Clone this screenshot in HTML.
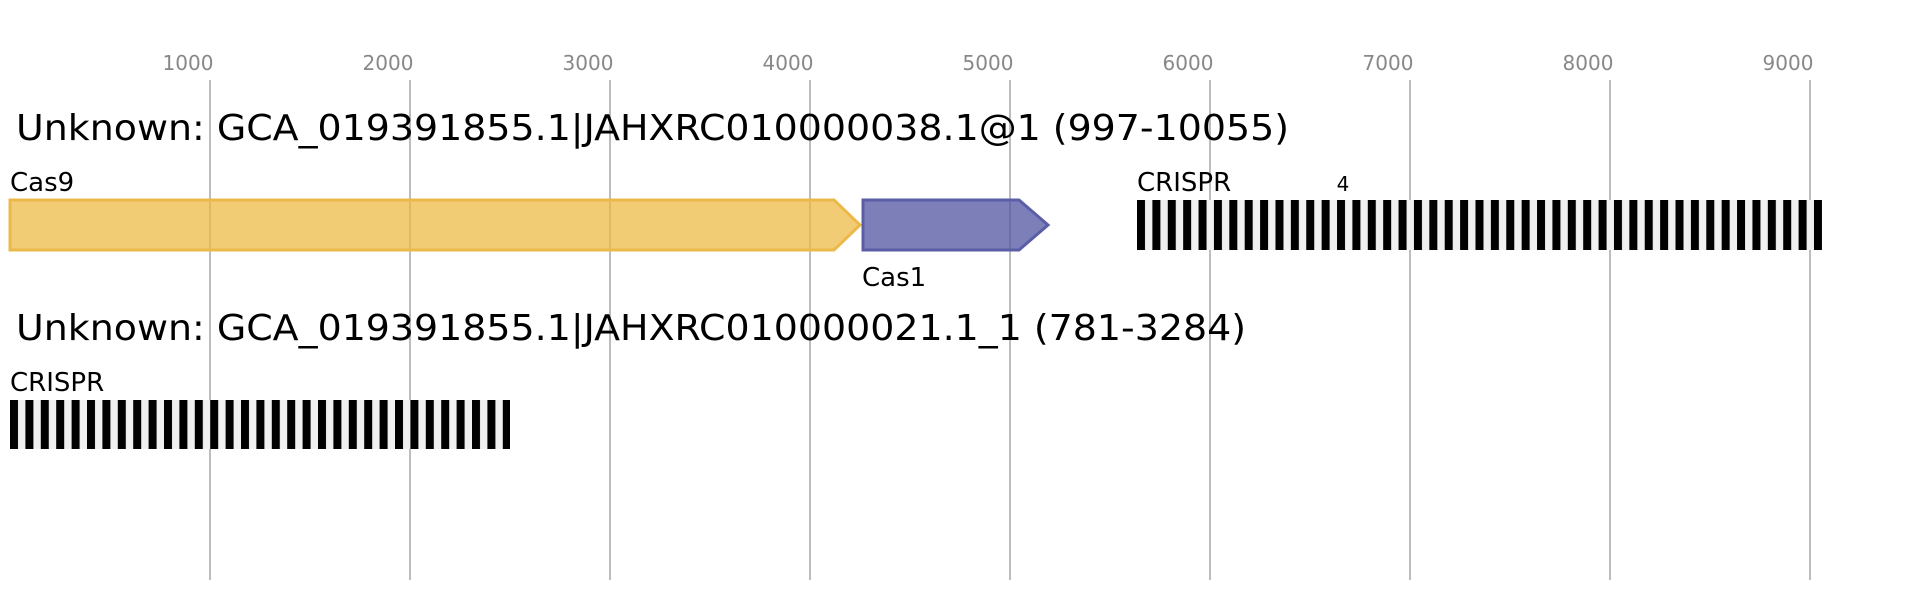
<!DOCTYPE html>
<html><head><meta charset="utf-8"><style>
html,body{margin:0;padding:0;background:#fff;}
svg{display:block;font-family:"DejaVu Sans","Liberation Sans",sans-serif;}
</style></head><body>
<svg width="1912" height="600" viewBox="0 0 1912 600" xmlns="http://www.w3.org/2000/svg">
<g stroke="#bdbdbd" stroke-width="2">
<line x1="210" y1="80" x2="210" y2="580"/><line x1="410" y1="80" x2="410" y2="580"/>
<line x1="610" y1="80" x2="610" y2="580"/><line x1="810" y1="80" x2="810" y2="580"/>
<line x1="1010" y1="80" x2="1010" y2="580"/><line x1="1210" y1="80" x2="1210" y2="580"/>
<line x1="1410" y1="80" x2="1410" y2="580"/><line x1="1610" y1="80" x2="1610" y2="580"/>
<line x1="1810" y1="80" x2="1810" y2="580"/>
</g>
<g fill="#888" font-size="20" text-anchor="middle">
<text x="188" y="70">1000</text><text x="388" y="70">2000</text><text x="588" y="70">3000</text>
<text x="788" y="70">4000</text><text x="988" y="70">5000</text><text x="1188" y="70">6000</text>
<text x="1388" y="70">7000</text><text x="1588" y="70">8000</text><text x="1788" y="70">9000</text>
</g>
<text x="16" y="140" font-size="36" textLength="1273" lengthAdjust="spacingAndGlyphs">Unknown: GCA_019391855.1|JAHXRC010000038.1@1 (997-10055)</text>
<text x="16" y="340" font-size="36" textLength="1230" lengthAdjust="spacingAndGlyphs">Unknown: GCA_019391855.1|JAHXRC010000021.1_1 (781-3284)</text>
<g font-size="26">
<text x="10" y="191">Cas9</text>
<text x="862" y="286">Cas1</text>
<text x="1137" y="191">CRISPR</text>
<text x="10" y="391">CRISPR</text>
</g>
<text x="1343" y="191" font-size="20" text-anchor="middle">4</text>
<polygon points="10,200 834,200 860,225 834,250 10,250" fill="rgba(237,185,62,0.72)" stroke="#ebb94a" stroke-width="3"/>
<polygon points="863,200 1019,200 1048,225 1019,250 863,250" fill="rgba(80,84,160,0.75)" stroke="#5a5ea6" stroke-width="3"/>
<defs>
<pattern id="cr" x="1137" y="0" width="15.386" height="600" patternUnits="userSpaceOnUse">
<rect x="0" y="0" width="15.386" height="600" fill="#f0f0f0"/><rect x="0" y="0" width="8" height="600" fill="#000"/>
</pattern>
<pattern id="cr2" x="10" y="0" width="15.4" height="600" patternUnits="userSpaceOnUse">
<rect x="0" y="0" width="15.4" height="600" fill="#f0f0f0"/><rect x="0" y="0" width="8" height="600" fill="#000"/>
</pattern>
</defs>
<rect x="1137" y="200" width="685" height="50" fill="url(#cr)"/>
<rect x="10" y="400" width="500" height="49" fill="url(#cr2)"/>
</svg>
</body></html>
